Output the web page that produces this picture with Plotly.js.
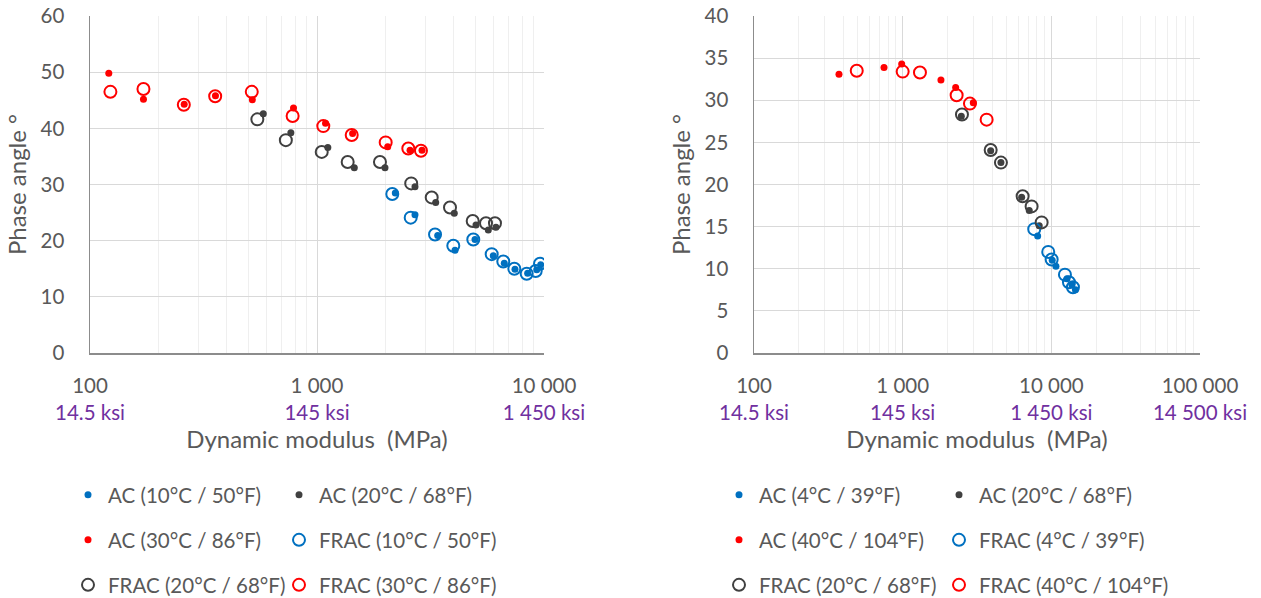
<!DOCTYPE html>
<html>
<head>
<meta charset="utf-8">
<script src="https://cdn.plot.ly/plotly-3.0.1.min.js"></script>
<style>html,body{margin:0;padding:0;background:#fff;} #chart{width:1261px;height:598px;}</style>
</head>
<body>
<div id="chart"></div>
<script>
// ---------- Left chart data (10/20/30 °C) ----------
const mpaAC10   = [2213, 2702, 3402, 4055, 4967, 5979, 6685, 7450, 8472, 9290, 9672];
const phAC10    = [28.5, 24.6, 20.9, 18.3, 20.2, 17.3, 16.0, 14.9, 14.2, 14.8, 15.7];
const mpaAC20   = [580, 767, 1116, 1460, 1993, 2702, 3334, 4025, 5016, 5683, 6143];
const phAC20    = [42.6, 39.2, 36.6, 33.0, 33.0, 29.6, 26.8, 24.9, 22.8, 21.9, 22.4];
const mpaAC30   = [121, 172, 260, 357, 519, 788, 1090, 1435, 2049, 2570, 2901];
const phAC30    = [49.8, 45.2, 44.3, 45.8, 45.1, 43.6, 40.9, 39.1, 36.7, 36.1, 36.1];
const mpaFRAC10 = [2146, 2587, 3311, 3985, 4881, 5883, 6617, 7401, 8390, 9192, 9603];
const phFRAC10  = [28.3, 24.1, 21.1, 19.1, 20.2, 17.6, 16.3, 15.0, 14.1, 14.6, 15.9];
const mpaFRAC20 = [546, 729, 1049, 1365, 1894, 2600, 3201, 3854, 4852, 5553, 6082];
const phFRAC20  = [41.6, 37.9, 35.8, 34.0, 34.0, 30.2, 27.7, 25.9, 23.5, 23.1, 23.1];
const mpaFRAC30 = [123, 172, 259, 356, 516, 781, 1066, 1422, 2007, 2525, 2871];
const phFRAC30  = [46.5, 47.0, 44.2, 45.7, 46.5, 42.2, 40.4, 38.8, 37.5, 36.4, 36.0];

// ---------- Right chart data (4/20/40 °C) ----------
const mpaAC4     = [8091, 10140, 10740, 12740, 13755, 14521];
const phAC4      = [13.9, 11.0, 10.3, 8.8, 8.1, 7.5];
const mpaAC20r   = [2480, 3908, 4581, 6314, 7102, 8290];
const phAC20r    = [28.1, 24.0, 22.6, 18.5, 16.9, 15.1];
const mpaAC40    = [373, 749, 985, 1809, 2272, 2985];
const phAC40     = [33.1, 33.9, 34.3, 32.4, 31.5, 29.7];
const mpaFRAC4   = [7674, 9532, 10050, 12346, 13136, 13975];
const phFRAC4    = [14.7, 12.0, 11.1, 9.3, 8.4, 7.8];
const mpaFRAC20r = [2505, 3908, 4581, 6412, 7369, 8606];
const phFRAC20r  = [28.3, 24.1, 22.6, 18.6, 17.4, 15.5];
const mpaFRAC40  = [491, 1000, 1307, 2307, 2835, 3671];
const phFRAC40   = [33.5, 33.4, 33.3, 30.6, 29.6, 27.7];

// ---------- Tick labels ----------
const tickMpa = [100, 1000, 10000, 100000];
const tickMpaText = ['100', '1 000', '10 000', '100 000'];
const tickKsiText = ['14.5 ksi', '145 ksi', '1 450 ksi', '14 500 ksi'];

const namesLeft  = ['AC (10°C / 50°F)', 'AC (20°C / 68°F)', 'AC (30°C / 86°F)',
                    'FRAC (10°C / 50°F)', 'FRAC (20°C / 68°F)', 'FRAC (30°C / 86°F)'];
const namesRight = ['AC (4°C / 39°F)', 'AC (20°C / 68°F)', 'AC (40°C / 104°F)',
                    'FRAC (4°C / 39°F)', 'FRAC (20°C / 68°F)', 'FRAC (40°C / 104°F)'];

const BLUE = '#0070C0', DARK = '#404040', RED = '#FF0000', PURPLE = '#7030A0', TXT = '#595959';
const FONT = 'Lato, "Open Sans", sans-serif';

function acTrace(x, y, name, color, xa, ya, lg) {
  return {x, y, name, type: 'scatter', mode: 'markers', xaxis: xa, yaxis: ya, legend: lg,
          marker: {symbol: 'circle', size: 7, color: color}, hoverinfo: 'skip'};
}
function fracTrace(x, y, name, color, xa, ya, lg) {
  return {x, y, name, type: 'scatter', mode: 'markers', xaxis: xa, yaxis: ya, legend: lg,
          marker: {symbol: 'circle-open', size: 12, color: color, line: {width: 2, color: color}},
          hoverinfo: 'skip'};
}

const data = [
  acTrace(mpaAC10, phAC10, namesLeft[0], BLUE, 'x', 'y', 'legend'),
  acTrace(mpaAC20, phAC20, namesLeft[1], DARK, 'x', 'y', 'legend2'),
  acTrace(mpaAC30, phAC30, namesLeft[2], RED, 'x', 'y', 'legend3'),
  fracTrace(mpaFRAC10, phFRAC10, namesLeft[3], BLUE, 'x', 'y', 'legend4'),
  fracTrace(mpaFRAC20, phFRAC20, namesLeft[4], DARK, 'x', 'y', 'legend5'),
  fracTrace(mpaFRAC30, phFRAC30, namesLeft[5], RED, 'x', 'y', 'legend6'),
  acTrace(mpaAC4, phAC4, namesRight[0], BLUE, 'x2', 'y2', 'legend7'),
  acTrace(mpaAC20r, phAC20r, namesRight[1], DARK, 'x2', 'y2', 'legend8'),
  acTrace(mpaAC40, phAC40, namesRight[2], RED, 'x2', 'y2', 'legend9'),
  fracTrace(mpaFRAC4, phFRAC4, namesRight[3], BLUE, 'x2', 'y2', 'legend10'),
  fracTrace(mpaFRAC20r, phFRAC20r, namesRight[4], DARK, 'x2', 'y2', 'legend11'),
  fracTrace(mpaFRAC40, phFRAC40, namesRight[5], RED, 'x2', 'y2', 'legend12')
];

const W = 1261, H = 598;
const mL = 90, mR = 61, mT = 16, mB = 245;
const plotW = W - mL - mR;
const leftDomain = [0, (544 - mL) / plotW];
const rightDomain = [(754 - mL) / plotW, 1];

const tickText = tickMpaText.map((t, i) => t + '<br><span style="color:' + PURPLE + '">' + tickKsiText[i] + '</span>');

function xAxis(domain, range, n, anchor) {
  return {
    type: 'log', domain: domain, range: range, anchor: anchor,
    tickmode: 'array', tickvals: tickMpa.slice(0, n), ticktext: tickText.slice(0, n),
    tickfont: {family: FONT, size: 20.5, color: TXT},
    ticks: 'outside', ticklen: 14, tickcolor: 'rgba(0,0,0,0)',
    showgrid: true, gridcolor: '#d9d9d9', gridwidth: 1,
    minor: {showgrid: true, gridcolor: '#efefef', gridwidth: 1, dtick: 'D1', ticks: ''},
    showline: true, linecolor: '#8c8c8c', linewidth: 1.5,
    zeroline: false, automargin: false,
    title: {text: 'Dynamic modulus  (MPa)', font: {family: FONT, size: 24, color: TXT}, standoff: 6}
  };
}
function yAxis(range, dtick, anchor) {
  return {
    range: range, dtick: dtick, anchor: anchor, domain: [0, 1],
    tickfont: {family: FONT, size: 20.5, color: TXT},
    ticks: 'outside', ticklen: 20, tickcolor: 'rgba(0,0,0,0)',
    showgrid: true, gridcolor: '#d9d9d9', gridwidth: 1,
    showline: true, linecolor: '#8c8c8c', linewidth: 1.5,
    zeroline: false, automargin: false,
    title: {text: 'Phase angle °', font: {family: FONT, size: 24, color: TXT}, standoff: 7}
  };
}

function legendAt(xpx, ypx) {
  return {
    orientation: 'h', xref: 'container', yref: 'container',
    x: xpx / W, y: 1 - ypx / H, xanchor: 'left', yanchor: 'middle',
    font: {family: FONT, size: 20.5, color: TXT},
    bgcolor: 'rgba(0,0,0,0)', borderwidth: 0
  };
}

// legend item positions (legend left x, row centre y) — one legend per series
const legCols = [68, 279, 719, 939];
const legRows = [495, 540, 585];

const layout = {
  width: W, height: H,
  margin: {l: mL, r: mR, t: mT, b: mB, autoexpand: false},
  paper_bgcolor: '#ffffff', plot_bgcolor: '#ffffff',
  showlegend: true,
  xaxis: xAxis(leftDomain, [2, 4], 3, 'y'),
  yaxis: yAxis([0, 60], 10, 'x'),
  xaxis2: xAxis(rightDomain, [2, 5], 4, 'y2'),
  yaxis2: yAxis([0, 40], 5, 'x2')
};
// series i of each chart: row = floor(i/2), col = i%2
for (let k = 0; k < 12; k++) {
  const chart = Math.floor(k / 6), i = k % 6;
  const key = k === 0 ? 'legend' : 'legend' + (k + 1);
  layout[key] = legendAt(legCols[chart * 2 + (i % 2)], legRows[Math.floor(i / 2)]);
}

Plotly.newPlot('chart', data, layout, {displayModeBar: false, staticPlot: true});
</script>
</body>
</html>
